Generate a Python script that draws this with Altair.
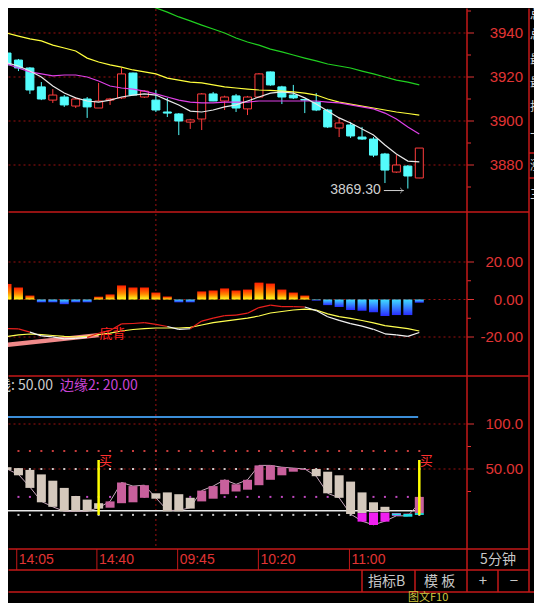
import altair as alt
import pandas as pd

# ---------------- data ----------------
opens = [3930.9, 3927.7, 3924.1, 3915.5, 3909.5, 3910.9, 3906.8, 3910.0, 3905.9, 3909.5,
         3910.5, 3921.8, 3910.9, 3909.5, 3904.1, 3903.2, 3899.5, 3900.9, 3912.3, 3909.1,
         3911.4, 3905.5, 3910.9, 3922.3, 3915.5, 3911.8, 3909.8, 3908.6, 3905.0, 3896.8,
         3898.2, 3892.7, 3891.8, 3885.0, 3876.8, 3879.5, 3874.1]
highs = [3932.0, 3928.2, 3924.5, 3917.7, 3914.5, 3911.8, 3910.9, 3910.9, 3917.3, 3910.5,
         3924.1, 3922.0, 3914.0, 3914.1, 3910.5, 3903.6, 3901.0, 3912.7, 3913.2, 3911.5,
         3912.3, 3911.4, 3921.8, 3922.5, 3916.0, 3916.4, 3910.0, 3912.7, 3905.5, 3901.4,
         3899.5, 3897.3, 3892.7, 3885.5, 3884.5, 3880.0, 3887.7]
lows = [3924.0, 3922.7, 3912.3, 3909.5, 3908.2, 3906.4, 3905.9, 3901.4, 3905.9, 3907.3,
        3910.0, 3911.5, 3910.5, 3904.1, 3901.8, 3893.6, 3896.4, 3895.9, 3909.0, 3905.0,
        3904.1, 3902.7, 3910.5, 3916.0, 3907.7, 3910.0, 3903.6, 3904.5, 3896.8, 3892.7,
        3892.3, 3891.4, 3883.6, 3871.8, 3876.4, 3869.3, 3874.0]
closes = [3925.5, 3924.1, 3914.1, 3910.0, 3911.8, 3907.3, 3910.0, 3906.4, 3909.1, 3910.0,
          3921.4, 3911.8, 3913.6, 3905.0, 3903.6, 3900.0, 3900.5, 3912.3, 3909.1, 3910.9,
          3905.9, 3910.9, 3921.4, 3916.4, 3910.9, 3910.5, 3909.5, 3905.0, 3897.3, 3899.1,
          3893.2, 3891.8, 3884.5, 3877.7, 3880.0, 3875.0, 3887.7]
ma5 = [3926.4, 3925.0, 3922.7, 3920.0, 3915.9, 3912.7, 3910.5, 3909.1, 3908.6, 3909.5,
       3910.9, 3911.8, 3912.3, 3911.8, 3909.5, 3907.3, 3904.5, 3904.1, 3905.0, 3906.4,
       3907.3, 3909.1, 3910.9, 3912.7, 3913.2, 3912.7, 3910.5, 3907.7, 3904.5, 3901.4,
       3899.1, 3896.4, 3893.6, 3889.1, 3885.0, 3881.8, 3881.4]
ma10 = [3925.9, 3924.1, 3922.3, 3921.4, 3920.5, 3920.9, 3920.9, 3920.0, 3918.2, 3915.9,
        3915.0, 3914.5, 3913.6, 3912.3, 3910.9, 3909.5, 3908.6, 3908.2, 3908.2, 3908.6,
        3908.6, 3908.6, 3909.1, 3909.1, 3909.1, 3909.1, 3909.1, 3909.1, 3908.6, 3908.2,
        3907.3, 3906.4, 3905.5, 3903.6, 3900.9, 3897.3, 3894.1]
ma20 = [3940.0, 3938.6, 3937.3, 3936.4, 3934.5, 3933.2, 3931.8, 3928.6, 3926.8, 3925.5,
        3924.5, 3923.2, 3922.3, 3921.4, 3919.5, 3918.6, 3917.7, 3917.3, 3916.4, 3915.5,
        3915.0, 3914.5, 3914.1, 3913.9, 3913.6, 3913.2, 3912.7, 3911.8, 3910.0, 3908.6,
        3907.7, 3906.8, 3905.9, 3905.0, 3904.1, 3903.4, 3902.7]
ma60_start = 11
ma60 = [3955.0, 3953.2, 3951.4, 3949.5, 3947.3, 3945.5, 3943.6, 3941.8, 3940.0, 3937.7,
        3935.9, 3934.5, 3932.7, 3931.4, 3930.0, 3928.6, 3927.3, 3925.9, 3925.0, 3924.1,
        3922.7, 3921.4, 3920.0, 3918.6, 3917.7, 3916.4]

macd = [8.3, 6.4, 2.1, -1.5, -1.5, -2.5, -1.5, -1.5, 1.5, 2.7, 7.5, 6.4, 6.4, 3.7, 1.6,
        -1.5, -1.5, 4.3, 4.8, 5.9, 4.8, 5.3, 9.0, 8.5, 5.3, 3.7, 2.1, -0.6, -3.0, -4.0,
        -5.6, -6.0, -6.8, -8.8, -8.3, -8.3, -1.7]
dea = [-19.7, -18.9, -18.4, -18.7, -19.2, -19.7, -20.0, -19.5, -18.7, -17.9, -16.8, -16.0,
       -15.5, -15.2, -15.2, -15.2, -14.9, -13.6, -12.3, -11.5, -10.7, -9.9, -8.8, -7.2,
       -6.4, -5.6, -5.1, -5.6, -7.7, -9.1, -10.1, -11.2, -12.5, -13.9, -14.7, -15.5, -16.8]
dif = [-15.5, -15.7, -17.4, -19.4, -19.9, -21.0, -20.7, -20.2, -18.0, -16.5, -13.0, -12.8,
       -12.3, -13.3, -14.4, -15.9, -15.6, -11.5, -9.9, -8.6, -8.3, -7.3, -4.3, -3.0,
       -3.8, -3.8, -4.0, -5.9, -9.2, -11.1, -12.9, -14.2, -15.9, -18.3, -18.9, -19.7, -17.6]
div_idx = [0, 8]
div_val = [-24.2, -19.0]

kd_hi = [52, 51, 49, 44, 37, 29, 20, 16, 12, 14, 35, 31, 32, 23, 24, 22, 18, 26, 31, 38,
         33, 38, 54, 54, 52, 51, 50, 50, 47, 43, 36, 24, 13, 8, 1, 0.5, 19]
kd_lo = [49, 43, 29, 13, 8, 3, 3, 3, 6, 7, 12, 13, 18, 17, 3, 3, 6, 14, 17, 22,
         25, 27, 32, 38, 43, 47, 49, 42, 23, 18, 0, 1, 2, 2, 0, 0, 1]
kd_kind = ["d"] * 9 + ["u"] * 4 + ["d"] * 4 + ["u"] * 10 + ["d"] * 7 + ["u"] * 3
kd_line = [50, 44, 30, 14, 8, 3, 3, 3, 7, 14, 35, 31, 32, 18, 4, 4, 7, 26, 31, 38,
           33, 38, 54, 54, 52, 51, 50, 42, 23, 18, 0, -8, -12, -8, -2, -2, 12]
mag_idx = [31, 32, 33, 34]
mag_hi = [1.0, 1.5, 1.5, 0.5]
mag_lo = [-8.5, -12.2, -8.5, -2.0]
cyan_idx = [34, 35, 36]
cyan_hi = [0.5, 0.0, 1.0]
cyan_lo = [-1.5, -3.0, -1.0]
buy_idx = [8, 36]
buy_top = [60, 60]
blue_level = 107.8
white_level = 3.5
dot_rows = [70, 50, 19, -1]
dot_cols = ["#c83c3c", "#c8c8c8", "#c048c0", "#c8c8c8"]

price_ticks = [3940, 3920, 3900, 3880]
price_labels = ["3940", "3920", "3900", "3880"]
price_minor = [3950, 3930, 3910, 3890, 3870]
macd_ticks = [20, 0, -20]
macd_labels = ["20.00", "0.00", "-20.00"]
macd_minor = [10, -10]
kd_ticks = [100, 50]
kd_labels = ["100.0", "50.00"]
kd_minor = [75, 25]
time_pos = [0.85, 7.85, 14.9, 21.95, 29.9]
time_labels = ["14:05", "14:40", "09:45", "10:20", "11:00"]
day_sep = [13]

# ---------------- styling ----------------
RED = "#e03434"
BORDER = "#c41818"
GRID = "#9a1010"
CYAN = "#54fcfc"
UPRED = "#ff3c3c"
NUMFONT = "Liberation Sans"
CJK = "Noto Sans CJK SC"

N = len(closes)
idx = list(range(N))
XS = alt.Scale(domain=[0, 36], range=[-6, 416.3], zero=False, nice=False)
S1 = alt.Scale(domain=[3880, 3940], range=[157, 25], zero=False, nice=False)
S2 = alt.Scale(domain=[-20, 20], range=[329, 254], zero=False, nice=False)
S3 = alt.Scale(domain=[0, 100], range=[506, 416], zero=False, nice=False)


def X(f="i"):
    return alt.X(f"{f}:Q", scale=XS, axis=None)


def Y(f, s):
    return alt.Y(f"{f}:Q", scale=s, axis=None)


L = []

cdf = pd.DataFrame(dict(i=idx, o=opens, h=highs, l=lows, c=closes, ma5=ma5, ma10=ma10, ma20=ma20,
                        m=macd, dea=dea, dif=dif, z=[0.0] * N))
cdf["col"] = [UPRED if c >= o else CYAN for o, c in zip(opens, closes)]


def grid_layers(ticks, labels, minor, S):
    g = pd.DataFrame({"v": ticks, "t": labels})
    gm = pd.DataFrame({"v": minor})
    return [
        alt.Chart(g).mark_rule(color=GRID, strokeDash=[2, 3], strokeWidth=1).encode(
            y=Y("v", S), x=alt.value(0.5), x2=alt.value(459)),
        alt.Chart(g).mark_rule(color=RED, strokeWidth=1).encode(
            y=Y("v", S), x=alt.value(459), x2=alt.value(466)),
        alt.Chart(gm).mark_rule(color=RED, strokeWidth=1).encode(
            y=Y("v", S), x=alt.value(459), x2=alt.value(463)),
        alt.Chart(g).mark_text(align="right", baseline="middle", color=RED, fontSize=15,
                               font=NUMFONT).encode(y=Y("v", S), x=alt.value(515), text="t:N"),
    ]


# grids
L += grid_layers(price_ticks, price_labels, price_minor, S1)
L += grid_layers(macd_ticks, macd_labels, macd_minor, S2)
L += grid_layers(kd_ticks, kd_labels, kd_minor, S3)
L.append(alt.Chart(pd.DataFrame({"i": day_sep})).mark_rule(color=GRID, strokeDash=[2, 3]).encode(
    x=X(), y=alt.value(1), y2=alt.value(541)))

# ---- panel 1: candles + MAs
L.append(alt.Chart(cdf).mark_rule(strokeWidth=1).encode(
    x=X(), y=Y("l", S1), y2="h", color=alt.Color("col:N", scale=None)))
L.append(alt.Chart(cdf[cdf.c >= cdf.o]).mark_bar(size=8, fill="black", stroke=UPRED, strokeWidth=1).encode(
    x=X(), y=Y("o", S1), y2="c"))
L.append(alt.Chart(cdf[cdf.c < cdf.o]).mark_bar(size=8, fill=CYAN, stroke=CYAN, strokeWidth=1).encode(
    x=X(), y=Y("o", S1), y2="c"))
L.append(alt.Chart(cdf).mark_line(color="#ffff3c", strokeWidth=1.2).encode(x=X(), y=Y("ma20", S1)))
L.append(alt.Chart(cdf).mark_line(color="#e040e8", strokeWidth=1.2).encode(x=X(), y=Y("ma10", S1)))
L.append(alt.Chart(cdf).mark_line(color="#e8e8e8", strokeWidth=1.2).encode(x=X(), y=Y("ma5", S1)))
g60 = pd.DataFrame({"i": list(range(ma60_start, ma60_start + len(ma60))), "v": ma60})
L.append(alt.Chart(g60).mark_line(color="#20d020", strokeWidth=1.2).encode(x=X(), y=Y("v", S1)))

lo_i = lows.index(min(lows))
ldf = pd.DataFrame({"i": [lo_i], "v": [min(lows)], "t": [f"{min(lows):.2f}"]})
L.append(alt.Chart(ldf).mark_text(align="right", baseline="middle", dx=-27, dy=1, color="#d0d0d0",
                                  fontSize=14, font=NUMFONT).encode(x=X(), y=Y("v", S1), text="t:N"))
L.append(alt.Chart(ldf).mark_rule(color="#d0d0d0", strokeWidth=1, xOffset=-24, x2Offset=-4,
                                  yOffset=2).encode(x=X(), x2="i", y=Y("v", S1)))
L.append(alt.Chart(ldf).mark_point(shape="M-1,-1L0,0L-1,1", size=30, filled=False, color="#d0d0d0",
                                   strokeWidth=1, xOffset=-5, yOffset=2).encode(x=X(), y=Y("v", S1)))

# ---- panel 2: MACD
grad_pos = alt.Gradient(gradient="linear", x1=0, x2=0, y1=0, y2=1,
                        stops=[alt.GradientStop(color="#ff1e00", offset=0),
                               alt.GradientStop(color="#ff8a00", offset=0.55),
                               alt.GradientStop(color="#ffff20", offset=1)])
grad_neg = alt.Gradient(gradient="linear", x1=0, x2=0, y1=0, y2=1,
                        stops=[alt.GradientStop(color="#40dcff", offset=0),
                               alt.GradientStop(color="#2a2cff", offset=1)])
L.append(alt.Chart(cdf[cdf.m > 0]).mark_bar(size=9, color=grad_pos).encode(x=X(), y=Y("m", S2), y2="z"))
L.append(alt.Chart(cdf[cdf.m < 0]).mark_bar(size=9, color=grad_neg).encode(x=X(), y=Y("z", S2), y2="m"))
L.append(alt.Chart(pd.DataFrame({"i": div_idx, "v": div_val})).mark_line(
    color="#f08a8a", strokeWidth=4.5).encode(x=X(), y=Y("v", S2)))
L.append(alt.Chart(cdf).mark_line(color="#ffff50", strokeWidth=1.2).encode(x=X(), y=Y("dea", S2)))
segs = []
for k in range(N - 1):
    col = "#e8201c" if dif[k + 1] >= dea[k + 1] else "#f4f4f4"
    segs.append({"seg": k, "i": k, "v": dif[k], "col": col})
    segs.append({"seg": k, "i": k + 1, "v": dif[k + 1], "col": col})
L.append(alt.Chart(pd.DataFrame(segs)).mark_line(strokeWidth=1.2).encode(
    x=X(), y=Y("v", S2), detail="seg:N", color=alt.Color("col:N", scale=None)))
L.append(alt.Chart(pd.DataFrame({"i": [div_idx[1]], "v": [div_val[1]], "t": ["底背"]})).mark_text(
    align="left", baseline="middle", dx=1, dy=-1, color="#ff2020", fontSize=13, font=CJK).encode(
    x=X(), y=Y("v", S2), text="t:N"))

# ---- panel 3
dots = pd.DataFrame([{"i": i, "v": v, "col": c} for v, c in zip(dot_rows, dot_cols) for i in idx])
L.append(alt.Chart(dots).mark_square(size=4, opacity=1).encode(
    x=X(), y=Y("v", S3), color=alt.Color("col:N", scale=None)))
lv = pd.DataFrame({"a": [-1.0, -1.0], "b": [35.9, 36.2], "v": [blue_level, white_level],
                   "col": ["#3c8ed8", "#e8e8e8"], "w": [2.0, 1.5]})
L.append(alt.Chart(lv).mark_rule().encode(
    x=X("a"), x2="b", y=Y("v", S3), color=alt.Color("col:N", scale=None),
    strokeWidth=alt.StrokeWidth("w:Q", scale=None)))
L.append(alt.Chart(pd.DataFrame({"i": idx, "v": kd_line})).mark_line(color="#c8a8bc", strokeWidth=1).encode(
    x=X(), y=Y("v", S3)))
kdf = pd.DataFrame({"i": idx, "hi": kd_hi, "lo": kd_lo,
                    "col": ["#d4c8bc" if k == "d" else "#c8609c" for k in kd_kind]})
L.append(alt.Chart(kdf).mark_bar(size=9).encode(
    x=X(), y=Y("hi", S3), y2="lo", color=alt.Color("col:N", scale=None)))
L.append(alt.Chart(pd.DataFrame({"i": mag_idx, "hi": mag_hi, "lo": mag_lo})).mark_bar(
    size=9, color="#f020f0").encode(x=X(), y=Y("hi", S3), y2="lo"))
L.append(alt.Chart(pd.DataFrame({"i": cyan_idx, "hi": cyan_hi, "lo": cyan_lo})).mark_bar(
    size=9, color="#20e0e8").encode(x=X(), y=Y("hi", S3), y2="lo"))
bdf = pd.DataFrame({"i": buy_idx, "top": buy_top, "bot": [-1] * len(buy_idx), "t": ["买"] * len(buy_idx)})
L.append(alt.Chart(bdf).mark_rule(color="#ffff00", strokeWidth=2.5).encode(x=X(), y=Y("top", S3), y2="bot"))
L.append(alt.Chart(bdf).mark_text(align="center", baseline="middle", dx=7, dy=1, color="#ff3030",
                                  fontSize=13, font=CJK).encode(x=X(), y=Y("top", S3), text="t:N"))
L.append(alt.Chart(pd.DataFrame({"t": ["线: 50.00"]})).mark_text(
    align="right", baseline="middle", color="#cccccc", fontSize=14, font=CJK).encode(
    x=alt.value(45), y=alt.value(378), text="t:N"))
L.append(alt.Chart(pd.DataFrame({"t": ["边缘2: 20.00"]})).mark_text(
    align="left", baseline="middle", color="#c844d4", fontSize=14, font=CJK).encode(
    x=alt.value(52), y=alt.value(378), text="t:N"))

# ---- time axis
tdf = pd.DataFrame({"i": time_pos, "t": time_labels})
L.append(alt.Chart(tdf).mark_rule(color=BORDER, strokeWidth=1).encode(
    x=X(), y=alt.value(541), y2=alt.value(562)))
L.append(alt.Chart(tdf).mark_text(align="left", baseline="middle", dx=2, color=RED, fontSize=14,
                                  font=NUMFONT).encode(x=X(), y=alt.value(552), text="t:N"))

# ---- frame lines (UI chrome)
def hline(y, x1, x2, w=1.5):
    return alt.Chart(pd.DataFrame({"k": [0]})).mark_rule(color=BORDER, strokeWidth=w).encode(
        x=alt.value(x1), x2=alt.value(x2), y=alt.value(y))


def vline(x, y1, y2, w=1.5):
    return alt.Chart(pd.DataFrame({"k": [0]})).mark_rule(color=BORDER, strokeWidth=w).encode(
        x=alt.value(x), y=alt.value(y1), y2=alt.value(y2))


for yy in [204, 368, 541, 562]:
    L.append(hline(yy, 0.5, 521))
L.append(hline(584, 0.5, 526))
L.append(hline(145, 521, 526))
L.append(hline(170, 521, 526))
L.append(vline(459, 0.5, 584))
L.append(vline(521, 0.5, 584))
L.append(vline(354, 562, 584))
L.append(vline(407, 562, 584))
L.append(vline(490, 562, 584))


def label(t, x, y, color="#c8c8c8", size=14, align="left", font=CJK):
    return alt.Chart(pd.DataFrame({"t": [t]})).mark_text(
        align=align, baseline="middle", color=color, fontSize=size, font=font).encode(
        x=alt.value(x), y=alt.value(y), text="t:N")


L.append(label("5分钟", 490, 552, align="center"))
L.append(label("指标B", 360, 574))
L.append(label("模 板", 416, 574))
L.append(label("+", 475, 573, align="center", size=15))
L.append(label("−", 506, 573, align="center", size=15))
L.append(label("图文F10", 400, 590, color="#d0c840", size=11))
for ch, yy in [("总", 7), ("总", 27), ("最", 52), ("最", 75), ("抖", 99), ("上", 122), ("涨", 158), ("三", 187)]:
    L.append(label(ch, 522, yy, color="#d8d8d8", size=12))

chart = alt.layer(*L).resolve_scale(y="independent").properties(
    width=526, height=595, padding=0, background="black",
    autosize=alt.AutoSizeParams(type="none"),
).configure_view(strokeWidth=0)

chart.save("out.html", embed_options={"renderer": "svg", "actions": False})
